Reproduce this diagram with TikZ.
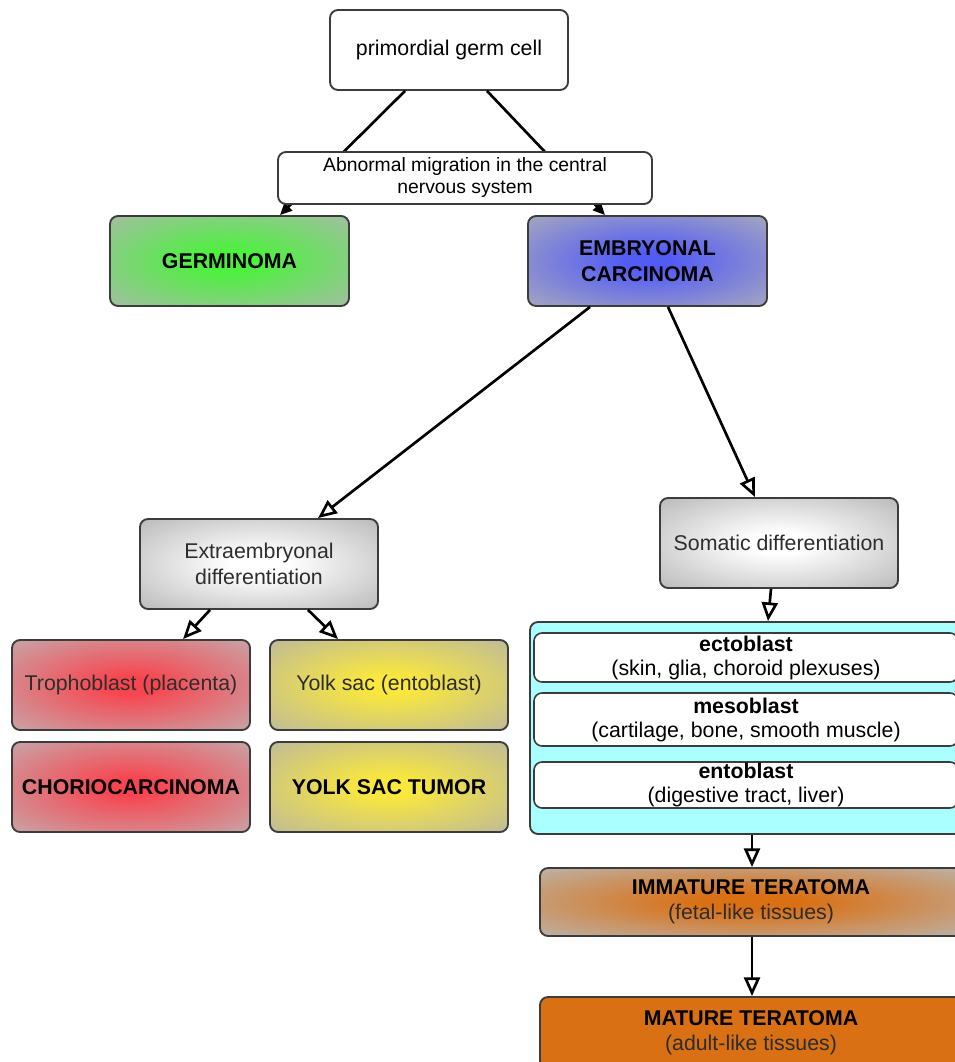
\documentclass[tikz,border=0pt]{standalone}
\usepackage{fontspec}
\setmainfont{Liberation Sans}
\usetikzlibrary{arrows.meta,calc}

\definecolor{boxline}{RGB}{60,60,60}
\definecolor{softtext}{RGB}{45,45,45}
\definecolor{germgreen}{RGB}{75,242,60}
\definecolor{germgray}{RGB}{170,186,170}
\definecolor{embblue}{RGB}{82,92,245}
\definecolor{embgray}{RGB}{172,172,186}
\definecolor{diffgray}{RGB}{185,185,185}
\definecolor{trophred}{RGB}{248,70,80}
\definecolor{trophgray}{RGB}{196,172,174}
\definecolor{yolkyellow}{RGB}{250,232,60}
\definecolor{yolkgray}{RGB}{186,183,160}
\definecolor{layercyan}{RGB}{170,255,255}
\definecolor{teraorange}{RGB}{218,112,20}
\definecolor{teragray}{RGB}{186,183,180}

% glow fills, colour in the middle, grey at the rim
\pgfdeclareradialshading{germglow}{\pgfpointorigin}{color(0bp)=(germgreen); color(5bp)=(germgreen); color(38bp)=(germgray); color(80bp)=(germgray)}
\pgfdeclareradialshading{embglow}{\pgfpointorigin}{color(0bp)=(embblue); color(5bp)=(embblue); color(38bp)=(embgray); color(80bp)=(embgray)}
\pgfdeclareradialshading{diffglow}{\pgfpointorigin}{color(0bp)=(white); color(6bp)=(white); color(36bp)=(diffgray); color(80bp)=(diffgray)}
\pgfdeclareradialshading{trophglow}{\pgfpointorigin}{color(0bp)=(trophred); color(5bp)=(trophred); color(38bp)=(trophgray); color(80bp)=(trophgray)}
\pgfdeclareradialshading{yolkglow}{\pgfpointorigin}{color(0bp)=(yolkyellow); color(5bp)=(yolkyellow); color(38bp)=(yolkgray); color(80bp)=(yolkgray)}
\pgfdeclareradialshading{teraglow}{\pgfpointorigin}{color(0bp)=(teraorange); color(6bp)=(teraorange); color(38bp)=(teragray); color(80bp)=(teragray)}

\tikzset{
  box/.style={draw=boxline, line width=1.4pt, rounded corners=6pt, align=center,
    inner sep=0pt, minimum width=238*0.75pt, minimum height=90*0.75pt,
    font=\fontsize{16}{19}\selectfont},
  layerbox/.style={draw=boxline, line width=1.2pt, rounded corners=6pt, align=center,
    inner sep=0pt, minimum width=424*0.75pt, fill=white, font=\fontsize{16}{18}\selectfont},
  link/.style={line width=2pt, -{Triangle[open, length=14pt, width=12pt, fill=white]}},
  solidlink/.style={line width=2pt, -{Triangle[length=9pt, width=8pt]}},
}

\begin{document}
\begin{tikzpicture}[x=0.75pt,y=0.75pt,yscale=-1,xscale=1]
\useasboundingbox (0,0) rectangle (955,1062);
\clip (0,0) rectangle (955,1062);

%Shape: Rectangle [primordial germ cell]
\node [box, fill=white, minimum height=80*0.75pt] (pgc) at (449,50) {primordial germ cell};

%Shape: Rectangle [first tumours]
\node [box, minimum width=239*0.75pt, shade, shading=germglow] (germ) at (229.5,261) {\textbf{GERMINOMA}};
\node [box, minimum width=239*0.75pt, shade, shading=embglow] (emb) at (647.5,261) {\textbf{EMBRYONAL}\\\textbf{CARCINOMA}};

%Straight Lines [under the migration label]
\draw [solidlink] ($(pgc.south)+(-44,0)$) -- ($(germ.north)+(50.5,0)$);
\draw [solidlink] ($(pgc.south)+(38,0)$) -- ($(emb.north)+(-42.5,0)$);

%Shape: Rectangle [migration label]
\node [box, fill=white, minimum width=374*0.75pt, minimum height=52*0.75pt,
  font=\fontsize{14.5}{16.5}\selectfont] (abn) at (465,178) {Abnormal migration in the central\\nervous system};

%Shape: Rectangle [differentiation]
\node [box, text=softtext, shade, shading=diffglow] (extra) at (259,564) {Extraembryonal\\differentiation};
\node [box, text=softtext, shade, shading=diffglow] (soma) at (779,543) {Somatic differentiation};

%Shape: Rectangle [extraembryonal branch]
\node [box, text=softtext, shade, shading=trophglow] (troph) at (131,685) {Trophoblast (placenta)};
\node [box, text=softtext, shade, shading=yolkglow] (yolk) at (389,685) {Yolk sac (entoblast)};
\node [box, shade, shading=trophglow] (chorio) at (131,787) {\textbf{CHORIOCARCINOMA}};
\node [box, shade, shading=yolkglow] (yst) at (389,787) {\textbf{YOLK SAC TUMOR}};

%Shape: Rectangle [germ layers]
\node [box, fill=layercyan, minimum width=432*0.75pt, minimum height=212*0.75pt] (layers) at (746,728) {};
\node [layerbox, minimum height=49*0.75pt] (ecto) at (746,657.5) {\textbf{ectoblast}\\(skin, glia, choroid plexuses)};
\node [layerbox, minimum height=53*0.75pt] (meso) at (746,719.5) {\textbf{mesoblast}\\(cartilage, bone, smooth muscle)};
\node [layerbox, minimum height=46*0.75pt] (ento) at (746,785) {\textbf{entoblast}\\(digestive tract, liver)};

%Shape: Rectangle [teratomas]
\node [box, minimum width=422*0.75pt, minimum height=68*0.75pt, shade, shading=teraglow] (imm) at (751,902) {\textbf{IMMATURE TERATOMA}\\{\color{softtext}(fetal-like tissues)}};
\node [box, minimum width=422*0.75pt, minimum height=72*0.75pt, fill=teraorange] (mat) at (751,1033) {\textbf{MATURE TERATOMA}\\{\color{softtext}(adult-like tissues)}};

%Straight Lines [arrows]
\draw [link] ($(emb.south)+(-57.5,0)$) -- ($(extra.north)+(59,0)$);
\draw [link] ($(emb.south)+(20.5,0)$) -- ($(soma.north)+(-24,0)$);
\draw [link] ($(extra.south)+(-49,0)$) -- ($(troph.north)+(52,0)$);
\draw [link] ($(extra.south)+(49,0)$) -- ($(yolk.north)+(-51,0)$);
\draw [link] ($(soma.south)+(-8,0)$) -- ($(layers.north)+(22,0)$);
\draw [link] ($(layers.south)+(6,0)$) -- ($(imm.north)+(1,0)$);
\draw [link] ($(imm.south)+(1,0)$) -- ($(mat.north)+(1,0)$);

\end{tikzpicture}
\end{document}
